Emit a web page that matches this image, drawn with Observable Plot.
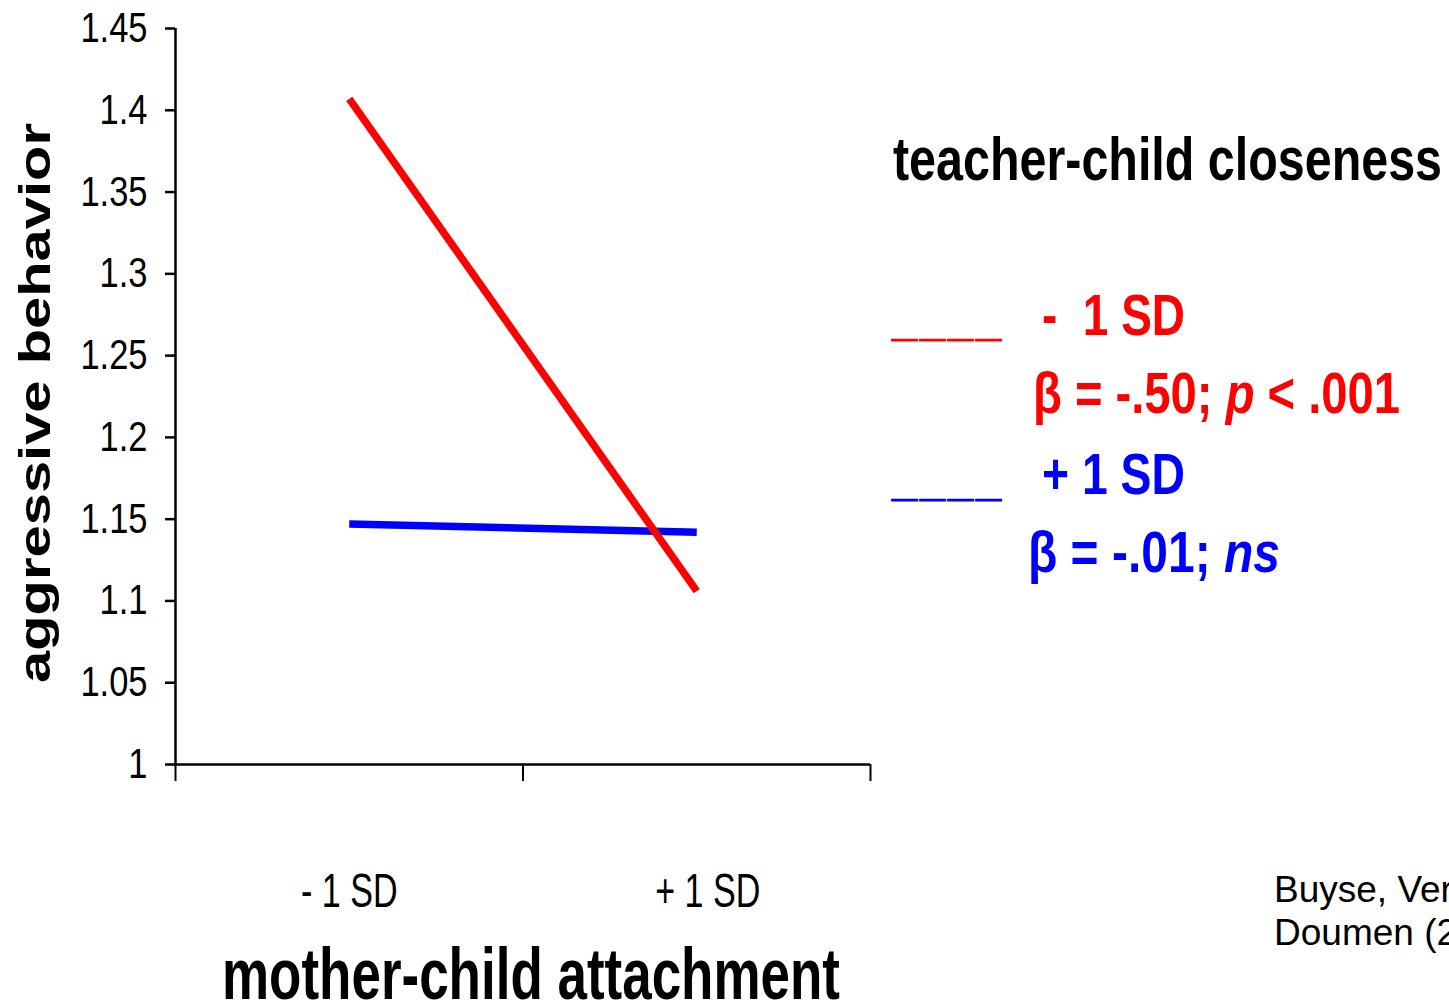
<!DOCTYPE html>
<html><head><meta charset="utf-8">
<script src="https://cdn.jsdelivr.net/npm/d3@7"></script>
<script src="https://cdn.jsdelivr.net/npm/@observablehq/plot@0.6"></script>
<style>
html,body{margin:0;padding:0;background:#fff;overflow:hidden;}
#chart{position:relative;width:1449px;height:1000px;overflow:hidden;}
</style></head><body><div id="chart"></div>
<script>
// ---- data ----
const attachmentLevels = ["- 1 SD", "+ 1 SD"];           // mother-child attachment (x)
const closenessLevels = ["- 1 SD", "+ 1 SD"];            // teacher-child closeness (series)
const lowCloseness = [1.407, 1.106];                     // closeness -1 SD
const highCloseness = [1.147, 1.142];                    // closeness +1 SD
const yTicks = [1, 1.05, 1.1, 1.15, 1.2, 1.25, 1.3, 1.35, 1.4, 1.45];
const seriesColors = ["#ff0000", "#0000ff"];
const legendStats = [
  [["β = -.50; ", false], ["p", true], [" < .001", false]],
  [["β = -.01; ", false], ["ns", true]]
];

// blue drawn first so red sits on top
const rows = [];
[[highCloseness, 1], [lowCloseness, 0]].forEach(([vals, s]) =>
  vals.forEach((v, i) => rows.push({series: closenessLevels[s], pos: i + 0.5, value: v})));

const FONT = "'Liberation Sans', Arial, sans-serif";
const labelNudge = [0, 11];

const plot = Plot.plot({
  width: 1449, height: 1000,
  marginLeft: 175, marginRight: 579, marginTop: 28, marginBottom: 236,
  style: {fontFamily: FONT, background: "#fff", color: "#000", overflow: "visible"},
  x: {domain: [0, attachmentLevels.length]},
  y: {domain: [1, 1.45]},
  color: {domain: closenessLevels, range: seriesColors},
  marks: [
    Plot.axisY({ticks: yTicks, tickSize: 10, tickPadding: 18, tickFormat: d => String(+d.toFixed(2)), fontSize: 42, label: null, strokeWidth: 2.5}),
    Plot.axisX({ticks: d3.range(attachmentLevels.length + 1), tickSize: 17, tickFormat: () => "", label: null, strokeWidth: 2}),
    ...attachmentLevels.map((lab, i) =>
      Plot.axisX({ticks: [i + 0.5], tickSize: 0, tickPadding: 108, tickFormat: () => lab, fontSize: 48, label: null, dx: labelNudge[i]})),
    Plot.ruleX([0], {strokeWidth: 2.5}),
    Plot.ruleY([1], {strokeWidth: 2.5}),
    Plot.line(rows, {x: "pos", y: "value", z: "series", stroke: "series", strokeWidth: 7.5, strokeLinecap: "butt"})
  ]
});
document.getElementById("chart").appendChild(plot);

const svg = d3.select(plot);
function squeeze(node, f, fixed, mode) {
  const L = fixed != null ? fixed : node.getComputedTextLength() * f;
  node.setAttribute("textLength", L);
  node.setAttribute("lengthAdjust", mode || "spacingAndGlyphs");
}
svg.selectAll('g[aria-label="y-axis tick label"] text').each(function(){ squeeze(this, 0.82); });
svg.selectAll('g[aria-label="x-axis tick label"] text').each(function(){ if (this.textContent) squeeze(this, 0.71); });

const ann = svg.append("g").attr("font-family", FONT).style("white-space", "pre");
function addText(o) {
  const t = ann.append("text")
    .attr("x", o.x).attr("y", o.y)
    .attr("font-size", o.size).attr("font-weight", o.weight || "normal")
    .attr("fill", o.fill || "#000")
    .attr("text-anchor", o.anchor || "start")
    .attr("xml:space", "preserve");
  if (o.rotate) t.attr("transform", `rotate(${o.rotate},${o.x},${o.y})`);
  if (o.stroke) t.attr("stroke", o.fill).attr("stroke-width", o.stroke);
  if (o.spacing) t.attr("letter-spacing", o.spacing);
  const parts = typeof o.text === "string" ? [[o.text, false]] : o.text;
  parts.forEach(([s, it]) => t.append("tspan").attr("font-style", it ? "italic" : "normal").text(s));
  if (o.width) squeeze(t.node(), 1, o.width);
  return t;
}

addText({text: "aggressive behavior", x: 50, y: 403, size: 45, weight: "bold", rotate: -90, anchor: "middle", width: 560});
addText({text: "mother-child attachment", x: 531, y: 999, size: 72, weight: "bold", anchor: "middle", width: 618});
addText({text: "teacher-child closeness", x: 893, y: 180, size: 61, weight: "bold", width: 549});

addText({text: "____", x: 892, y: 336, size: 45, weight: "bold", fill: seriesColors[0], spacing: 3, stroke: 1.2});
addText({text: "-  " + closenessLevels[0].replace("- ", ""), x: 1042, y: 335, size: 58, weight: "bold", fill: seriesColors[0], width: 143});
addText({text: legendStats[0], x: 1033, y: 413, size: 58, weight: "bold", fill: seriesColors[0], width: 367});

addText({text: "____", x: 892, y: 496, size: 45, weight: "bold", fill: seriesColors[1], spacing: 3, stroke: 1.2});
addText({text: closenessLevels[1], x: 1042, y: 494, size: 58, weight: "bold", fill: seriesColors[1], width: 143});
addText({text: legendStats[1], x: 1028, y: 572, size: 58, weight: "bold", fill: seriesColors[1], width: 252});

addText({text: "Buyse, Verschueren, &", x: 1274, y: 902, size: 37});
addText({text: "Doumen (2011)", x: 1274, y: 945, size: 37});
</script></body></html>
